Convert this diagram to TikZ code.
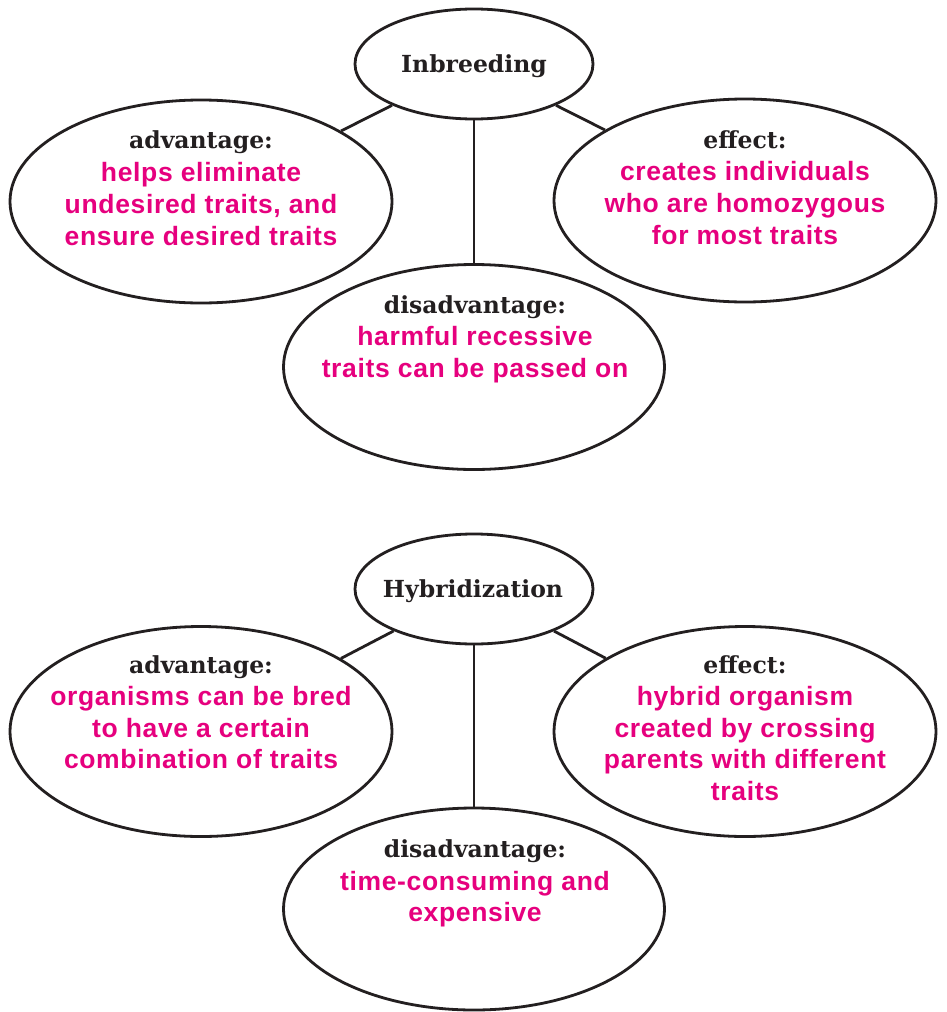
\documentclass[tikz,border=0pt]{standalone}
\usepackage{fontspec}
\usetikzlibrary{shapes.geometric}
\newfontfamily\hdfam{DejaVu Serif}
\newfontfamily\pkfam[LetterSpace=2.5]{Liberation Sans}
\newcommand\hdfont{\hdfam\bfseries\fontsize{23.5}{27}\selectfont}
\newcommand\pkfont{\pkfam\bfseries\fontsize{26.5}{30}\selectfont}
\definecolor{ink}{RGB}{35,31,32}
\definecolor{pinkc}{RGB}{230,0,126}
\tikzset{
  bub/.style={draw=ink, line width=2.8pt, ellipse, inner sep=0pt},
  hd/.style={anchor=base, font=\hdfont, text=ink, inner sep=0pt},
  pk/.style={anchor=base, font=\pkfont, text=pinkc, inner sep=0pt},
  link/.style={draw=ink, line width=2.8pt}
}
\begin{document}
\begin{tikzpicture}[x=1pt,y=-1pt]
\useasboundingbox[fill=white] (0,0) rectangle (947,1012);
% ---------- top diagram ----------
\node[bub, minimum width=238pt, minimum height=110pt] (inb) at (474,64) {};
\node[bub, minimum width=382pt, minimum height=203pt] (adv) at (201,201.5) {};
\node[bub, minimum width=382pt, minimum height=203pt] (eff) at (745,200.5) {};
\node[bub, minimum width=381pt, minimum height=205pt] (dis) at (474,367) {};
\draw[link] (inb) -- (adv);
\draw[link] (inb) -- (eff);
\draw[link] (inb.south) -- (dis.north);
\node[hd] (inbt) at (474,72) {Inbreeding};
\node[hd] (advh) at (201,148) {advantage:};
\node[pk] (adv1) at (201,181) {helps eliminate};
\node[pk] (adv2) at (201,213) {undesired traits, and};
\node[pk] (adv3) at (201,245) {ensure desired traits};
\node[hd] (effh) at (745,148) {effect:};
\node[pk] (eff1) at (745,180) {creates individuals};
\node[pk] (eff2) at (745,212) {who are homozygous};
\node[pk] (eff3) at (745,244) {for most traits};
\node[hd] (dish) at (475,313) {disadvantage:};
\node[pk] (dis1) at (475,345) {harmful recessive};
\node[pk] (dis2) at (475,377) {traits can be passed on};
% ---------- bottom diagram ----------
\node[bub, minimum width=238pt, minimum height=110pt] (hyb) at (474,589) {};
\node[bub, minimum width=382pt, minimum height=210pt] (badv) at (201,731.5) {};
\node[bub, minimum width=382pt, minimum height=210pt] (beff) at (745,731.5) {};
\node[bub, minimum width=381pt, minimum height=202pt] (bdis) at (474,909) {};
\draw[link] (hyb) -- (badv);
\draw[link] (hyb) -- (beff);
\draw[link] (hyb.south) -- (bdis.north);
\node[hd] (hybt) at (473,597) {Hybridization};
\node[hd] (badvh) at (201,673) {advantage:};
\node[pk] (badv1) at (201,705) {organisms can be bred};
\node[pk] (badv2) at (201,737) {to have a certain};
\node[pk] (badv3) at (201,768) {combination of traits};
\node[hd] (beffh) at (745,673) {effect:};
\node[pk] (beff1) at (745,705) {hybrid organism};
\node[pk] (beff2) at (745,737) {created by crossing};
\node[pk] (beff3) at (745,768) {parents with different};
\node[pk] (beff4) at (745,800) {traits};
\node[hd] (bdish) at (475,857) {disadvantage:};
\node[pk] (bdis1) at (475,890) {time-consuming and};
\node[pk] (bdis2) at (475,921) {expensive};
\end{tikzpicture}
\end{document}
